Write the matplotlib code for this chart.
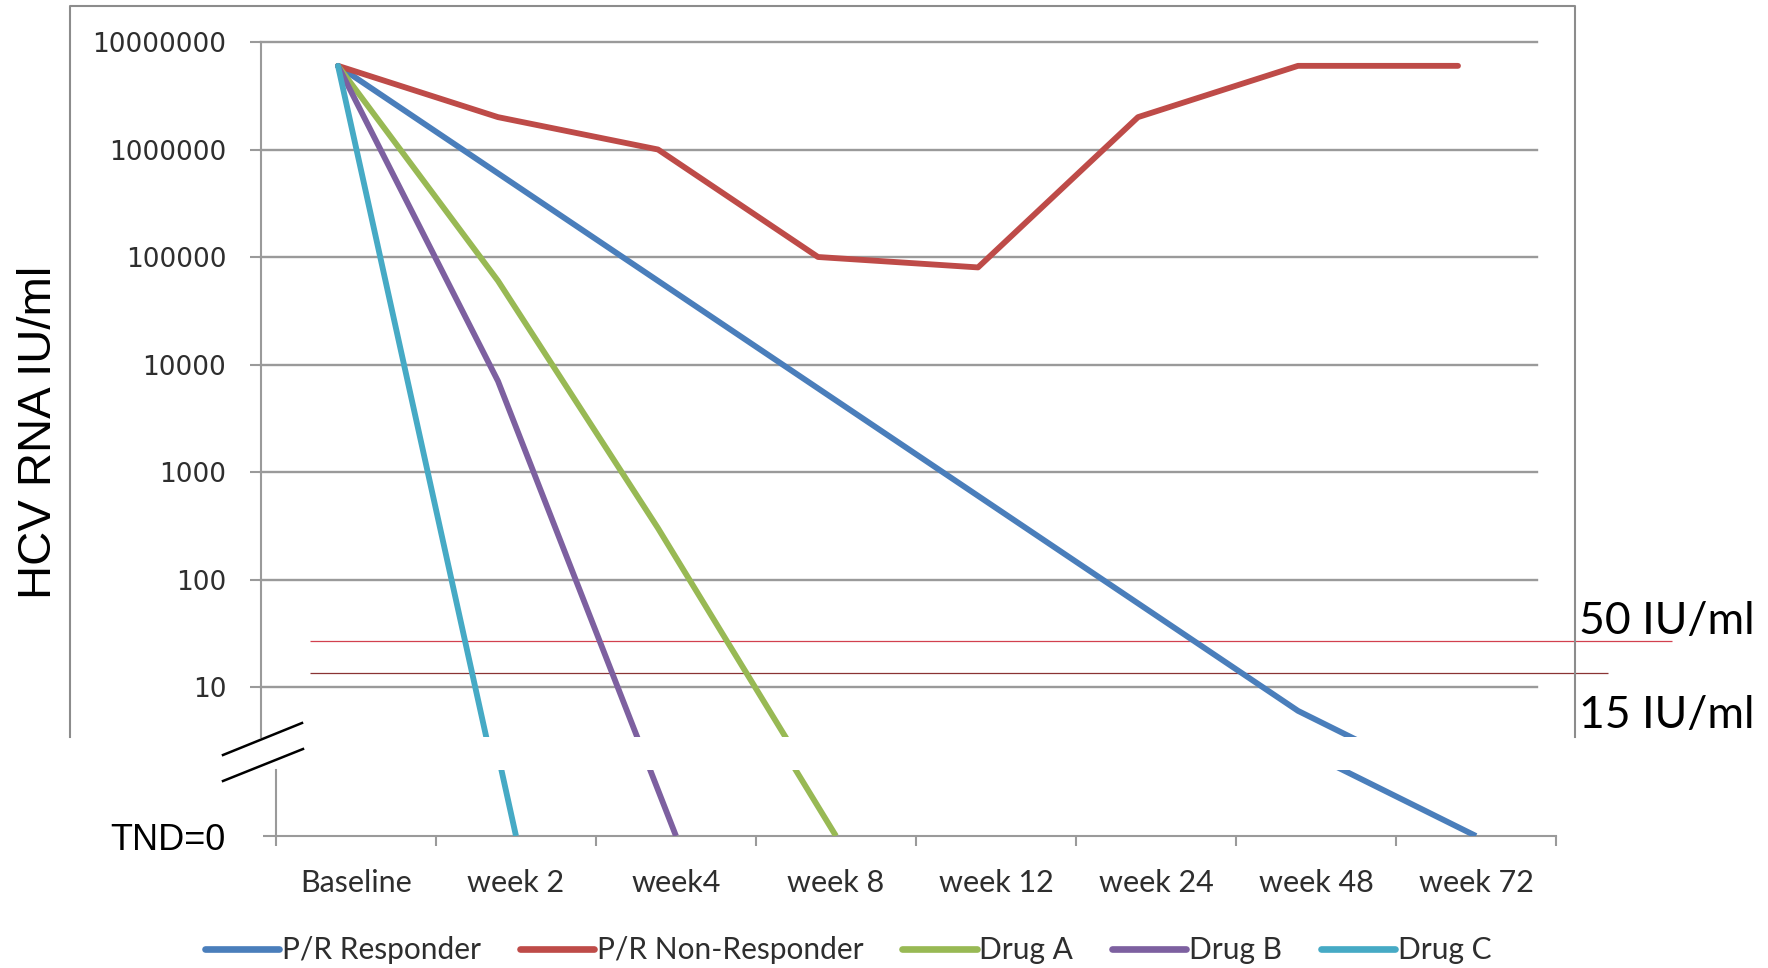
import numpy as np
import matplotlib
matplotlib.use("Agg")
import matplotlib.pyplot as plt
from matplotlib.lines import Line2D
from matplotlib.ticker import NullLocator

# visits on the x axis
visits = ["Baseline", "week 2", "week4", "week 8", "week 12", "week 24", "week 48", "week 72"]

# HCV RNA IU/ml per visit, 0 = TND (target not detected), None = no value
pr_responder = [6e6, 6e5, 6e4, 6e3, 600, 60, 6, 0]
pr_non_responder = [6e6, 2e6, 1e6, 1e5, 8e4, 2e6, 6e6, 6e6]
drug_a = [6e6, 6e4, 300, 0, None, None, None, None]
drug_b = [6e6, 7e3, 0, None, None, None, None, None]
drug_c = [6e6, 0, None, None, None, None, None, None]

series_names = ["P/R Responder", "P/R Non-Responder", "Drug A", "Drug B", "Drug C"]
series = [pr_responder, pr_non_responder, drug_a, drug_b, drug_c]
colors = ["#4a7ebb", "#be4b48", "#98b954", "#7d60a0", "#46aac5"]

# detection limit lines and their labels
limit_values = [27, 13.5]
limit_labels = ["50 IU/ml", "15 IU/ml"]
limit_colors = ["#d2404f", "#8a3434"]

ytick_vals = [10, 100, 1000, 10000, 100000, 1000000, 10000000]

TND_POS = 10 ** 0.04   # where the TND=0 baseline sits on the log scale

W, H = 1768, 968
fig = plt.figure(figsize=(W / 100, H / 100), dpi=100)


def fx(x):
    return x / W


def fy(y):
    return 1 - y / H


def to_plot(vals):
    out = []
    for v in vals:
        if v is None:
            out.append(np.nan)
        elif v == 0:
            out.append(TND_POS)
        else:
            out.append(v)
    return np.array(out, dtype=float)


grid_col = "#9a9a9a"
txt_col = "#2e2e2e"
lw = 4.2

# ---- upper (log) part ----
ax = fig.add_axes([fx(261), fy(737), fx(1537) - fx(261), fy(42) - fy(737)])
ax.set_yscale("log")
ax.set_xlim(-0.48125, 7.49375)
ax.set_ylim(10 ** 0.5349, 1e7)
x = np.arange(len(visits))
for name, vals, c in zip(series_names, series, colors):
    ax.plot(x, to_plot(vals), color=c, lw=lw, solid_capstyle="round",
            solid_joinstyle="round", label=name, zorder=3)

ax.set_yticks(ytick_vals, [str(v) for v in ytick_vals])
ax.yaxis.set_minor_locator(NullLocator())
ax.set_xticks([])
ax.grid(axis="y", color=grid_col, lw=1.7)
for gl in ax.get_ygridlines():
    gl.set_clip_on(False)
ax.tick_params(axis="y", length=8, width=1.5, color=grid_col, pad=17,
               labelsize=19, labelcolor=txt_col)
for t in ax.get_yticklabels():
    t.set_fontfamily("DejaVu Sans")
for s in ["top", "right", "bottom"]:
    ax.spines[s].set_visible(False)
ax.spines["left"].set_color(grid_col)
ax.spines["left"].set_linewidth(1.5)

# detection limits, drawn past the plot edge
ax.hlines(limit_values[0], -0.175, 8.3375, color=limit_colors[0], lw=0.9, clip_on=False, zorder=2)
ax.hlines(limit_values[1], -0.175, 7.94, color=limit_colors[1], lw=0.9, clip_on=False, zorder=2)
fig.text(fx(1579), fy(621), limit_labels[0], fontsize=32, family="Lato", va="center", ha="left")
fig.text(fx(1579), fy(715), limit_labels[1], fontsize=32, family="Lato", va="center", ha="left")

# ---- lower part (TND) ----
ax2 = fig.add_axes([fx(276), fy(836), fx(1556) - fx(276), fy(770) - fy(836)])
ax2.set_yscale("log")
ax2.set_xlim(-0.5, 7.5)
ax2.set_ylim(TND_POS, 10 ** 0.654)
for vals, c in zip(series, colors):
    ax2.plot(x, to_plot(vals), color=c, lw=lw, solid_capstyle="butt", zorder=3)
ax2.yaxis.set_minor_locator(NullLocator())
ax2.set_yticks([TND_POS], ["TND=0"])
ax2.tick_params(axis="y", length=9.4, width=1.5, color=grid_col, pad=27, labelsize=26)
for t in ax2.get_yticklabels():
    t.set_fontfamily("Liberation Sans")
ax2.set_xticks(x, visits)
ax2.set_xticks(np.arange(-0.5, 8), minor=True)
ax2.tick_params(axis="x", which="major", length=0, pad=24, labelsize=22, labelcolor=txt_col)
ax2.tick_params(axis="x", which="minor", length=7, width=1.5, color=grid_col)
for t in ax2.get_xticklabels():
    t.set_fontfamily("Lato")
for s in ["top", "right"]:
    ax2.spines[s].set_visible(False)
for s in ["left", "bottom"]:
    ax2.spines[s].set_color(grid_col)
    ax2.spines[s].set_linewidth(1.5)
ax2.patch.set_alpha(0)

# outer chart-area frame (open at the bottom)
fig.add_artist(Line2D([fx(70), fx(70), fx(1575), fx(1575)],
                      [fy(737), fy(6), fy(6), fy(737)],
                      transform=fig.transFigure, color="#8c8c8c", lw=1.5))

# axis break marks
fig.add_artist(Line2D([fx(223), fx(302)], [fy(755), fy(723)], transform=fig.transFigure, color="black", lw=1.8))
fig.add_artist(Line2D([fx(223), fx(303)], [fy(781), fy(749)], transform=fig.transFigure, color="black", lw=1.8))

fig.text(fx(39), fy(432), "HCV RNA IU/ml", rotation=90, fontsize=34,
         family="Liberation Sans", va="center", ha="center")

leg = fig.legend(*ax.get_legend_handles_labels(), loc="center", ncol=5,
                 bbox_to_anchor=(fx(848), fy(950)), frameon=False,
                 prop={"family": "Lato", "size": 21.5}, handlelength=2.5,
                 handletextpad=0.08, columnspacing=1.3)
for t in leg.get_texts():
    t.set_color(txt_col)
for h in leg.get_lines():
    h.set_linewidth(4.8)

fig.savefig("out.png", dpi=100, facecolor="white")
